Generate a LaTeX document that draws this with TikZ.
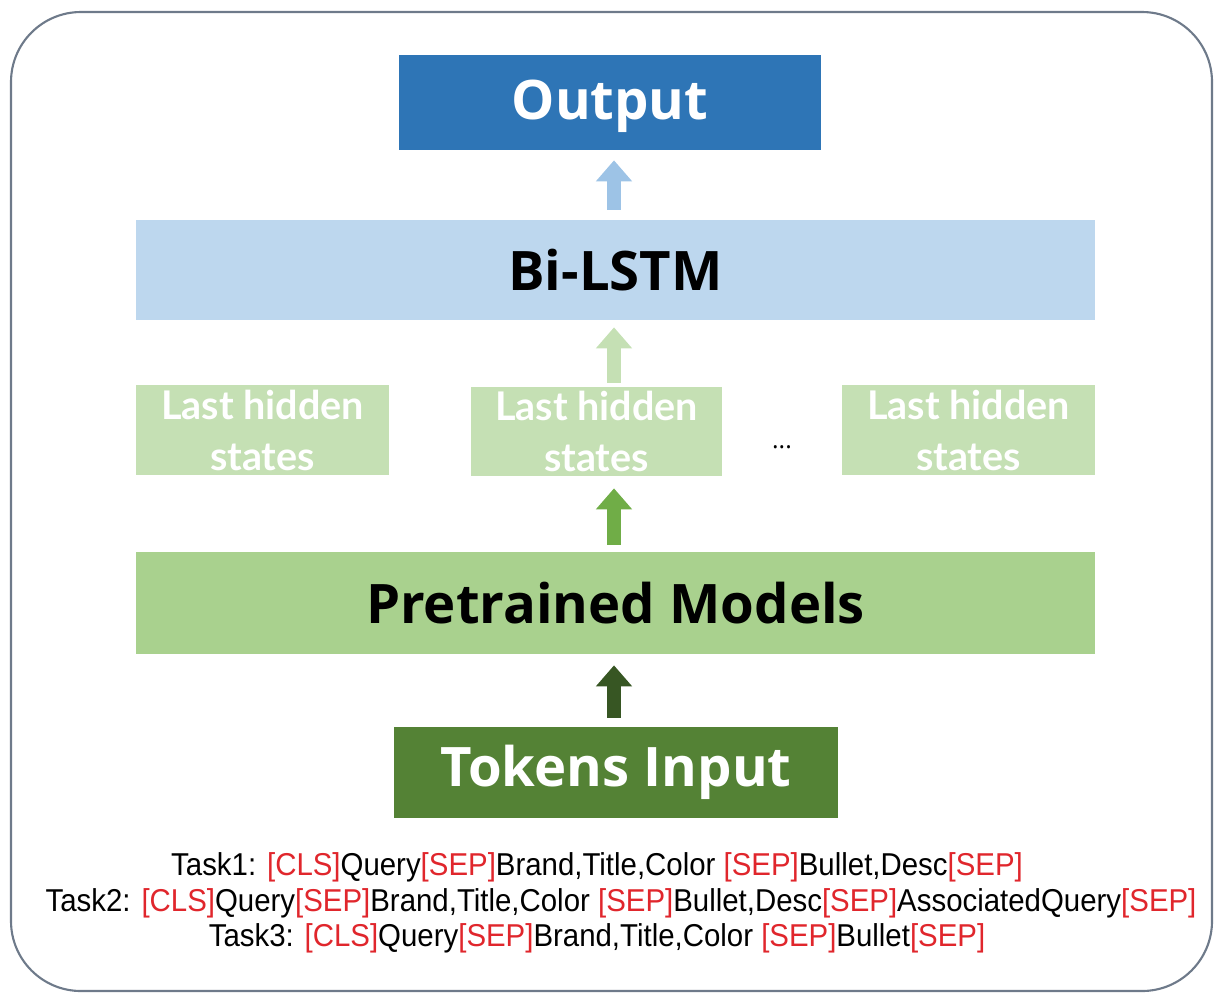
\documentclass[tikz,border=0pt]{standalone}
\usepackage{fontspec}
\setmainfont{Open Sans}
\newfontfamily\taskfont{Liberation Sans}
\newfontfamily\lhsfont{Lato}
\usetikzlibrary{arrows.meta}
\definecolor{outblue}{HTML}{2E75B6}
\definecolor{arrblue}{HTML}{9DC3E6}
\definecolor{lstmblue}{HTML}{BDD7EE}
\definecolor{lhsgreen}{HTML}{C5E0B4}
\definecolor{midgreen}{HTML}{70AD47}
\definecolor{pmgreen}{HTML}{A9D18E}
\definecolor{darkgreen}{HTML}{375623}
\definecolor{tokgreen}{HTML}{548235}
\definecolor{framegray}{HTML}{6E7A8A}
\definecolor{tokred}{HTML}{E0262C}
\newcommand{\rt}[1]{\textcolor{tokred}{#1}}
\tikzset{
  box/.style={rectangle, inner sep=0pt, draw=none, align=center},
  bigtext/.style={font=\fontsize{31}{34}\selectfont\bfseries},
  lhstext/.style={font=\lhsfont\fontsize{22.5}{25}\selectfont\bfseries, text=white},
  barrow/.style={line width=0.28cm, -{Triangle[length=0.42cm, width=0.7cm]}},
  tasktext/.style={font=\taskfont\fontsize{18}{20}\selectfont, inner sep=0pt}
}
\begin{document}
\begin{tikzpicture}[x=0.02cm, y=-0.02cm]
\useasboundingbox (0,0) rectangle (1219,995);
\draw[framegray, line width=1.2pt, rounded corners=1.4cm] (11,12) rectangle (1212,991);

\node[box, fill=outblue, minimum width=8.44cm, minimum height=1.9cm, bigtext, text=white, text depth=0.1cm] (out) at (610,102.5) {Output};
\node[box, fill=lstmblue, minimum width=19.18cm, minimum height=2.0cm, bigtext, text=black] (lstm) at (615.5,270) {Bi-LSTM};
\node[box, fill=lhsgreen, minimum width=5.06cm, minimum height=1.8cm, lhstext] (lhs1) at (262.5,430) {Last hidden\\[4pt]states};
\node[box, fill=lhsgreen, minimum width=5.02cm, minimum height=1.78cm, lhstext] (lhs2) at (596.5,431.5) {Last hidden\\[4pt]states};
\node[box, fill=lhsgreen, minimum width=5.06cm, minimum height=1.8cm, lhstext] (lhs3) at (968.5,430) {Last hidden\\[4pt]states};
\node[box, font=\fontsize{14}{14}\selectfont] (dots) at (782,447) {...};
\node[box, fill=pmgreen, minimum width=19.18cm, minimum height=2.04cm, bigtext, text=black] (pm) at (615.5,603) {Pretrained Models};
\node[box, fill=tokgreen, minimum width=8.88cm, minimum height=1.82cm, bigtext, text=white] (tok) at (616,772.5) {\raisebox{-0.12cm}{Tokens Input}};

\coordinate (ax) at (614,0);
\draw[barrow, darkgreen, shorten <=0.18cm, shorten >=0.22cm] (tok.north -| ax) -- (pm.south -| ax);
\draw[barrow, midgreen, shorten <=0.14cm, shorten >=0.24cm] (pm.north -| ax) -- (lhs2.south -| ax);
\draw[barrow, lhsgreen, shorten <=0.08cm, shorten >=0.14cm] (lhs2.north -| ax) -- (lstm.south -| ax);
\draw[barrow, arrblue, shorten <=0.2cm, shorten >=0.2cm] (lstm.north -| ax) -- (out.south -| ax);

\node[tasktext] (t1) at (597,867) {\scalebox{0.93}[1]{Task1: \rt{[CLS]}Query\rt{[SEP]}Brand,Title,Color \rt{[SEP]}Bullet,Desc\rt{[SEP]}}};
\node[tasktext] (t2) at (621,903) {\scalebox{0.93}[1]{Task2: \rt{[CLS]}Query\rt{[SEP]}Brand,Title,Color \rt{[SEP]}Bullet,Desc\rt{[SEP]}AssociatedQuery\rt{[SEP]}}};
\node[tasktext] (t3) at (597,938) {\scalebox{0.93}[1]{Task3: \rt{[CLS]}Query\rt{[SEP]}Brand,Title,Color \rt{[SEP]}Bullet\rt{[SEP]}}};
\end{tikzpicture}
\end{document}
